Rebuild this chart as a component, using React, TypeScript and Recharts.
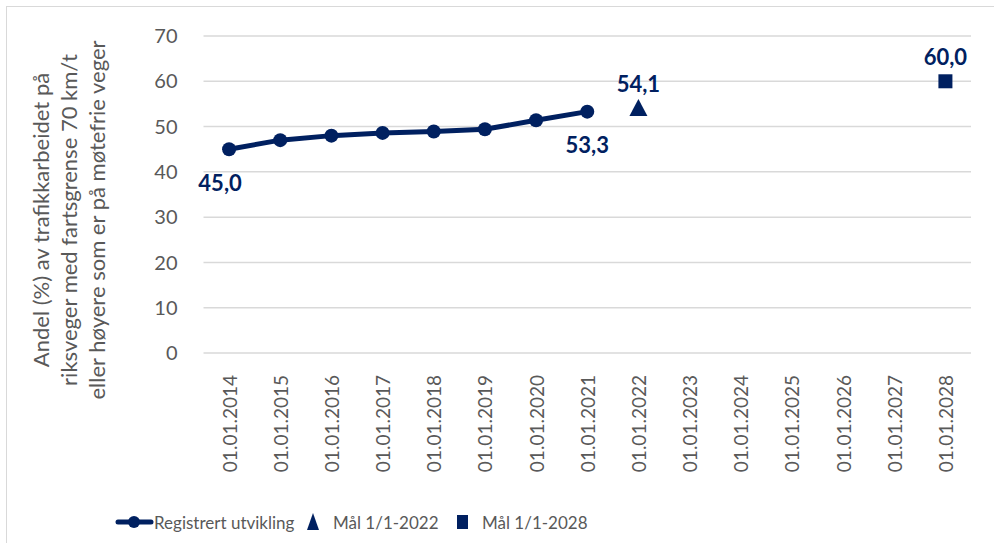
import React from 'react';
import {
  ComposedChart,
  Line,
  CartesianGrid,
  XAxis,
  YAxis,
  Legend,
} from 'recharts';

const years = [
  '01.01.2014', '01.01.2015', '01.01.2016', '01.01.2017', '01.01.2018',
  '01.01.2019', '01.01.2020', '01.01.2021', '01.01.2022', '01.01.2023',
  '01.01.2024', '01.01.2025', '01.01.2026', '01.01.2027', '01.01.2028',
];
const registered = [45.0, 47.0, 48.0, 48.6, 48.9, 49.4, 51.4, 53.3, null, null, null, null, null, null, null];
const goal2022 = [null, null, null, null, null, null, null, null, 54.1, null, null, null, null, null, null];
const goal2028 = [null, null, null, null, null, null, null, null, null, null, null, null, null, null, 60.0];
const yTicks = [0, 10, 20, 30, 40, 50, 60, 70];
const labelledRegistered = [0, 7];

const NAVY = '#002060';
const GREY = '#595959';
const FONT = 'Lato, "Open Sans", sans-serif';

const data = years.map((y, i) => ({
  year: y,
  registered: registered[i],
  goal2022: goal2022[i],
  goal2028: goal2028[i],
}));

const fmt = (v: number) => v.toFixed(1).replace('.', ',');

const XTick = ({ x, y, payload }: any) => (
  <text
    x={x}
    y={y + 14}
    transform={`rotate(-90, ${x}, ${y + 14})`}
    textAnchor="end"
    dominantBaseline="central"
    fontSize={19}
    fill={GREY}
    fontFamily={FONT}
  >
    {payload.value}
  </text>
);

const YLabel = () => {
  const lines = [
    'Andel (%) av trafikkarbeidet på',
    'riksveger med fartsgrense 70 km/t',
    'eller høyere som er på møtefrie veger',
  ];
  const xs = [40, 68, 96];
  return (
    <g>
      {lines.map((l, i) => (
        <text
          key={i}
          x={xs[i]}
          y={220}
          transform={`rotate(-90, ${xs[i]}, 220)`}
          textAnchor="middle"
          dominantBaseline="central"
          fontSize={22}
          fill={GREY}
          fontFamily={FONT}
        >
          {l}
        </text>
      ))}
    </g>
  );
};

const registeredLabel = (props: any) => {
  const { x, y, value, index } = props;
  if (value == null || !labelledRegistered.includes(index)) return null;
  return (
    <text x={index === 0 ? x - 9 : x} y={y + 33} textAnchor="middle" dominantBaseline="central"
      fontSize={22} fontWeight="bold" fill={NAVY} fontFamily={FONT}>
      {fmt(value)}
    </text>
  );
};

const aboveLabel = (props: any) => {
  const { x, y, value } = props;
  if (value == null) return null;
  return (
    <text x={x} y={y - 25} textAnchor="middle" dominantBaseline="central"
      fontSize={22} fontWeight="bold" fill={NAVY} fontFamily={FONT}>
      {fmt(value)}
    </text>
  );
};

const triangleDot = (props: any) => {
  const { cx, cy, value, index } = props;
  if (value == null || cy == null) return <g key={index} />;
  return <path key={index} d={`M${cx},${cy - 9} L${cx + 9},${cy + 8} L${cx - 9},${cy + 8} Z`} fill={NAVY} />;
};

const squareDot = (props: any) => {
  const { cx, cy, value, index } = props;
  if (value == null || cy == null) return <g key={index} />;
  return <rect key={index} x={cx - 7} y={cy - 7} width={14} height={14} fill={NAVY} />;
};

const LegendContent = () => (
  <svg width={994} height={70} style={{ display: 'block' }}>
    <g fontFamily={FONT} fontSize={17} fill={GREY}>
      <line x1={118} y1={49} x2={151} y2={49} stroke={NAVY} strokeWidth={5} strokeLinecap="round" />
      <circle cx={134} cy={49} r={6} fill={NAVY} />
      <text x={154} y={49} dominantBaseline="central">Registrert utvikling</text>
      <path d="M313,40 L319,57 L307,57 Z" fill={NAVY} />
      <text x={333} y={49} dominantBaseline="central">Mål 1/1-2022</text>
      <rect x={457} y={42} width={11} height={14} fill={NAVY} />
      <text x={482} y={49} dominantBaseline="central">Mål 1/1-2028</text>
    </g>
  </svg>
);

export default function App() {
  return (
    <div style={{ position: 'absolute', left: 0, top: 0, width: 994, height: 543, background: '#fff', overflow: 'hidden' }}>
      <div style={{ position: 'absolute', left: 6, top: 6, width: 1000, height: 560, border: '1px solid #d9d9d9', boxSizing: 'border-box' }} />
      <ComposedChart
        width={994}
        height={543}
        data={data}
        margin={{ top: 36, right: 23, left: 0, bottom: 0 }}
      >
        <CartesianGrid vertical={false} stroke="#d9d9d9" strokeWidth={1.5} />
        <XAxis
          dataKey="year"
          scale="band"
          interval={0}
          height={120}
          axisLine={false}
          tickLine={false}
          tick={<XTick />}
        />
        <YAxis
          width={203.5}
          domain={[0, 70]}
          ticks={yTicks}
          axisLine={false}
          tickLine={false}
          tickSize={0}
          tickMargin={26}
          tick={{ fontSize: 20, fill: GREY, fontFamily: FONT }}
          label={<YLabel />}
        />
        <Legend verticalAlign="bottom" height={70} content={<LegendContent />} />
        <Line
          dataKey="registered"
          stroke={NAVY}
          strokeWidth={5}
          dot={{ r: 7, fill: NAVY, stroke: NAVY, strokeWidth: 0 }}
          label={registeredLabel}
          isAnimationActive={false}
        />
        <Line
          dataKey="goal2022"
          stroke="none"
          dot={triangleDot}
          label={aboveLabel}
          isAnimationActive={false}
        />
        <Line
          dataKey="goal2028"
          stroke="none"
          dot={squareDot}
          label={aboveLabel}
          isAnimationActive={false}
        />
      </ComposedChart>
    </div>
  );
}
